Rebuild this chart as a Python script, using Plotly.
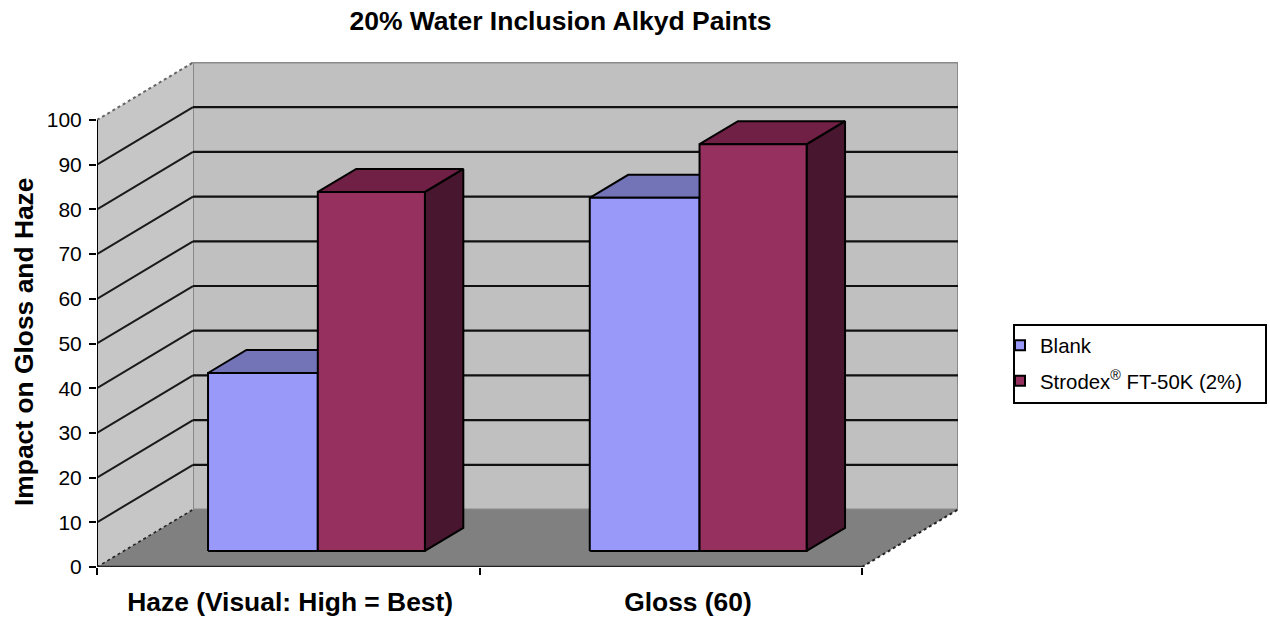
import plotly.graph_objects as go

# Data
categories = ["Haze (Visual: High = Best)", "Gloss (60)"]
series_names = ["Blank", "Strodex<sup>®</sup> FT-50K (2%)\u00a0\u00a0\u00a0"]
blank_values = [39.8, 79.0]
strodex_values = [80.3, 91.0]
y_ticks = list(range(0, 101, 10))

# Colours per series: front, top, side
blank_colors = ("#9999FA", "#7373B8", "#4D4D7D")
strodex_colors = ("#96305E", "#701F45", "#48162F")

# Oblique projection, in axis units
DX = 0.251
DY = 12.86
BAR_START = 0.22
BLANK_W = 0.287
STRODEX_W = 0.280
CAT_OFFSETS = [0.0, 0.998]
D_FRONT = 0.28
D_BACK = 0.68
XMAX = 2.0


def proj(x, y, d):
    return x + DX * d, y + DY * d


def poly(points, fill, line_color="black", line_width=2):
    xs = [p[0] for p in points] + [points[0][0]]
    ys = [p[1] for p in points] + [points[0][1]]
    return go.Scatter(x=xs, y=ys, mode="lines", fill="toself", fillcolor=fill,
                      line=dict(color=line_color, width=line_width),
                      hoverinfo="skip", showlegend=False)


def seg(p0, p1, color="black", width=2, dash="solid"):
    return go.Scatter(x=[p0[0], p1[0]], y=[p0[1], p1[1]], mode="lines",
                      line=dict(color=color, width=width, dash=dash),
                      hoverinfo="skip", showlegend=False)


fig = go.Figure()

# Walls and floor
fig.add_trace(poly([proj(0, 0, 1), proj(XMAX, 0, 1), proj(XMAX, 100, 1), proj(0, 100, 1)],
                   "#C0C0C0", "#8A8A8A", 2))
fig.add_trace(poly([proj(0, 0, 0), proj(0, 0, 1), proj(0, 100, 1), proj(0, 100, 0)],
                   "#C6C6C6", "rgba(0,0,0,0)", 0))
fig.add_trace(poly([proj(0, 0, 0), proj(XMAX, 0, 0), proj(XMAX, 0, 1), proj(0, 0, 1)],
                   "#808080", "rgba(0,0,0,0)", 0))

# Gridlines on both walls
for v in y_ticks[1:-1]:
    fig.add_trace(seg(proj(0, v, 1), proj(XMAX, v, 1), "#111111", 2.2))
    fig.add_trace(seg(proj(0, v, 0), proj(0, v, 1), "#1A1A1A", 2))

# Wall edges
fig.add_trace(seg(proj(0, 100, 0), proj(0, 100, 1), "#666666", 2, "dot"))
fig.add_trace(seg(proj(0, 0, 0), proj(0, 0, 1), "#222222", 1.6, "dot"))
fig.add_trace(seg(proj(XMAX, 0, 0), proj(XMAX, 0, 1), "#222222", 2, "dot"))


def add_bar(x0, x1, value, colors):
    front, top, side = colors
    fig.add_trace(poly([proj(x1, 0, D_FRONT), proj(x1, 0, D_BACK),
                        proj(x1, value, D_BACK), proj(x1, value, D_FRONT)], side))
    fig.add_trace(poly([proj(x0, value, D_FRONT), proj(x1, value, D_FRONT),
                        proj(x1, value, D_BACK), proj(x0, value, D_BACK)], top))
    fig.add_trace(poly([proj(x0, 0, D_FRONT), proj(x1, 0, D_FRONT),
                        proj(x1, value, D_FRONT), proj(x0, value, D_FRONT)], front))


for i in range(len(categories)):
    base = CAT_OFFSETS[i] + BAR_START
    add_bar(base, base + BLANK_W, blank_values[i], blank_colors)
    add_bar(base + BLANK_W, base + BLANK_W + STRODEX_W, strodex_values[i], strodex_colors)

# Front axis lines
fig.add_trace(seg((0, 0), (0, 100), "black", 2))
fig.add_trace(seg((0, 0), (XMAX, 0), "#222222", 2.4))

# Legend entries
for i, (name, col) in enumerate(zip(series_names, (blank_colors[0], strodex_colors[0]))):
    fig.add_trace(go.Scatter(x=[None], y=[None], mode="markers", name=name,
                             legendgroup=f"g{i}",
                             marker=dict(symbol="square", size=10, color=col,
                                         line=dict(color="black", width=2))))

fig.update_layout(
    width=1270, height=621,
    paper_bgcolor="white", plot_bgcolor="white",
    margin=dict(l=97, r=312, t=62, b=54, autoexpand=False),
    font=dict(family="Liberation Sans", color="black"),
    title=dict(text="<b>20% Water Inclusion Alkyd Paints</b>", font=dict(size=26.5),
               x=560.5 / 1270, xanchor="center", y=1 - 21 / 621, yanchor="middle"),
    xaxis=dict(range=[0, 861 / 382.5], showgrid=False, zeroline=False, showline=False,
               tickmode="array", tickvals=[0.505, 1.545], ticktext=[f"<b>{c}</b>" for c in categories],
               ticks="", ticklabelstandoff=17, tickfont=dict(size=26.4),
               minor=dict(tickmode="array", tickvals=[0, 1, 2], ticks="outside", ticklen=7,
                          tickcolor="black", tickwidth=2)),
    yaxis=dict(range=[0, 505 / 4.47], showgrid=False, zeroline=False, showline=False,
               tickmode="array", tickvals=y_ticks, ticks="outside", ticklen=7, tickcolor="black",
               tickwidth=2, tickfont=dict(size=21), ticklabelstandoff=3),
    annotations=[dict(text="<b>Impact on Gloss and Haze</b>", font=dict(size=26.4), textangle=-90,
                      xref="paper", yref="paper", x=(24 - 97) / 861, y=(567 - 342) / 505,
                      xanchor="center", yanchor="middle", showarrow=False)],
    legend=dict(x=1013 / 1270, xanchor="left", y=1 - 363.5 / 621, yanchor="middle",
                xref="container", yref="container",
                bgcolor="white", bordercolor="black", borderwidth=2,
                font=dict(size=20.4), indentation=-15,
                tracegroupgap=6, itemclick=False, itemdoubleclick=False),
    showlegend=True,
)
fig.update_traces(cliponaxis=False)
fig.write_html("out.html", post_script="document.body.style.margin='0';", config={"displayModeBar": False})
